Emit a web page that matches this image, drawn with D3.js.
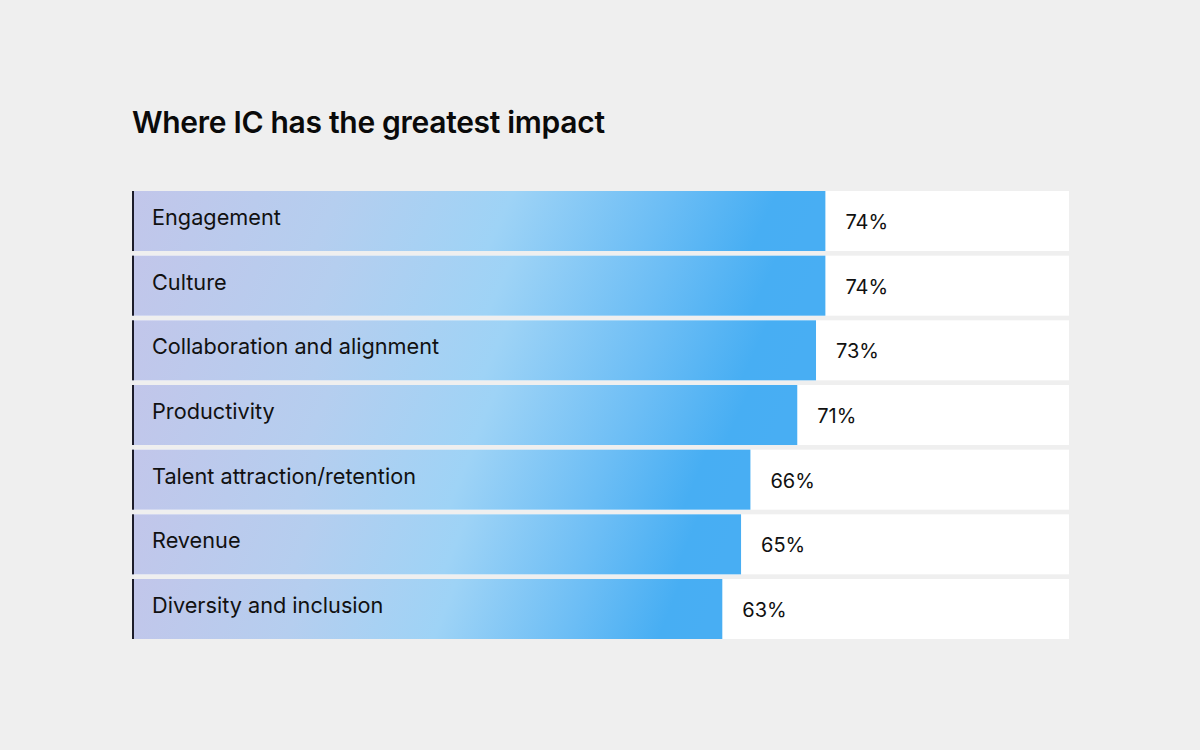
<!DOCTYPE html>
<html>
<head>
<meta charset="utf-8">
<script src="https://cdn.jsdelivr.net/npm/d3@7.9.0/dist/d3.min.js"></script>
<style>
  html, body { margin: 0; padding: 0; background: #efefef; }
  svg { display: block; font-family: Inter, "Liberation Sans", sans-serif; }
</style>
</head>
<body>
<svg id="chart" width="1200" height="750"></svg>
<script>
const categories = [
  'Engagement',
  'Culture',
  'Collaboration and alignment',
  'Productivity',
  'Talent attraction/retention',
  'Revenue',
  'Diversity and inclusion'
];
const values = [74, 74, 73, 71, 66, 65, 63];
const title = 'Where IC has the greatest impact';

const data = categories.map((c, i) => ({ label: c, value: values[i] }));

const svg = d3.select('#chart');
const margin = { left: 132, right: 131, top: 191, bottom: 112 };
const width = 1200;
const height = 750;

const x = d3.scaleLinear().domain([0, 100]).range([margin.left, width - margin.right]);
const y = d3.scaleBand()
  .domain(categories)
  .range([margin.top, height - margin.bottom + 1])
  .paddingInner(0.072)
  .paddingOuter(0);

// bar gradient, lavender -> light blue -> blue
const defs = svg.append('defs');
const grad = defs.append('linearGradient')
  .attr('id', 'barGrad')
  .attr('x1', 0).attr('y1', 0)
  .attr('x2', 1).attr('y2', 0.04);
grad.append('stop').attr('offset', '0%').attr('stop-color', '#c2c6ea');
grad.append('stop').attr('offset', '30%').attr('stop-color', '#b5ceef');
grad.append('stop').attr('offset', '55%').attr('stop-color', '#9ed3f6');
grad.append('stop').attr('offset', '78%').attr('stop-color', '#6bbdf5');
grad.append('stop').attr('offset', '93%').attr('stop-color', '#47aef3');
grad.append('stop').attr('offset', '100%').attr('stop-color', '#48aef3');

svg.append('text')
  .attr('x', margin.left)
  .attr('y', 133)
  .attr('font-size', 30)
  .attr('font-weight', 600)
  .attr('fill', '#0a0a0a')
  .attr('letter-spacing', -0.3)
  .text(title);

const rows = svg.selectAll('g.row')
  .data(data)
  .join('g')
  .attr('class', 'row')
  .attr('transform', d => `translate(0,${y(d.label)})`);

// white track for the full 0-100 range
rows.append('rect')
  .attr('x', x(0))
  .attr('width', x(100) - x(0))
  .attr('height', y.bandwidth())
  .attr('fill', '#ffffff');

rows.append('rect')
  .attr('x', x(0))
  .attr('width', d => x(d.value) - x(0))
  .attr('height', y.bandwidth())
  .attr('fill', 'url(#barGrad)');

// dark left edge
rows.append('rect')
  .attr('x', x(0))
  .attr('width', 2)
  .attr('height', y.bandwidth())
  .attr('fill', '#1c1c2a');

rows.append('text')
  .attr('x', x(0) + 20)
  .attr('y', y.bandwidth() / 2 + 4)
  .attr('font-size', 21.7)
  .attr('fill', '#111')
  .text(d => d.label);

rows.append('text')
  .attr('x', d => x(d.value) + 20)
  .attr('y', y.bandwidth() / 2 + 8)
  .attr('font-size', 20)
  .attr('fill', '#111')
  .text(d => d.value + '%');
</script>
</body>
</html>
